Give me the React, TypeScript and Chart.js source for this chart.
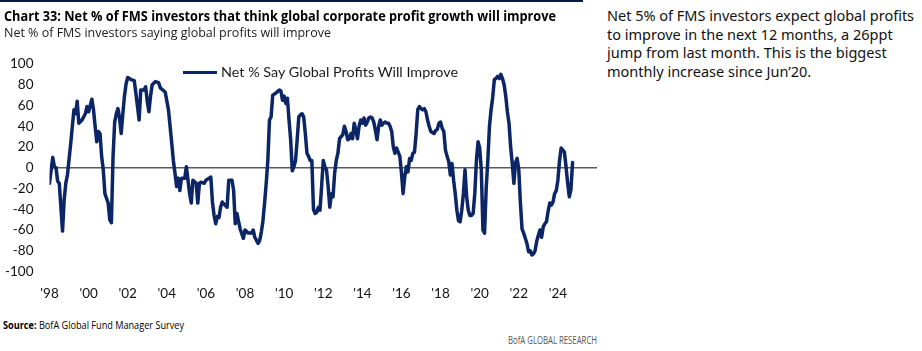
import React, { useEffect, useLayoutEffect, useRef } from "react";
import { Chart, registerables } from "chart.js";

Chart.register(...registerables);

// Months since Jan 1998 (0 = Jan 1998) and the survey reading for that month
const monthsSinceJan1998 = [
  0, 2, 3, 4, 5, 6, 8, 9, 10, 11, 13, 15, 16, 17, 18, 20, 22, 23, 24, 26, 27, 28, 29, 30, 31, 32, 33, 34, 36, 37, 38,
  39, 40, 41, 42, 43, 44, 45, 46, 47, 48, 50, 52, 53, 54, 55, 56, 58, 59, 60, 61, 62, 63, 65, 67, 68, 71, 73, 74, 75,
  76, 77, 78, 79, 80, 81, 83, 84, 85, 86, 87, 88, 90, 91, 92, 93, 95, 96, 98, 99, 100, 101, 102, 103, 104, 105, 106,
  107, 109, 110, 112, 113, 114, 115, 117, 119, 120, 122, 124, 125, 126, 128, 129, 130, 131, 132, 133, 134, 135, 136,
  137, 139, 141, 142, 143, 144, 145, 146, 147, 148, 149, 150, 151, 152, 153, 154, 155, 156, 157, 158, 159, 160, 161,
  162, 163, 164, 165, 166, 167, 168, 169, 170, 171, 172, 173, 174, 175, 176, 177, 178, 180, 181, 182, 183, 184, 185,
  186, 187, 188, 189, 190, 191, 192, 193, 194, 195, 196, 197, 198, 199, 200, 201, 202, 203, 204, 205, 206, 207, 208,
  209, 210, 211, 212, 213, 214, 215, 216, 217, 218, 219, 220, 221, 222, 223, 224, 225, 226, 227, 228, 229, 230, 231,
  232, 233, 234, 236, 237, 238, 239, 240, 241, 242, 243, 244, 245, 246, 247, 248, 249, 250, 251, 252, 253, 254, 255,
  256, 257, 258, 259, 260, 261, 262, 263, 264, 265, 266, 267, 268, 269, 270, 271, 272, 273, 274, 275, 276, 277, 278,
  279, 280, 281, 282, 283, 284, 285, 286, 287, 288, 289, 290, 291, 292, 293, 294, 295, 296, 297, 298, 299, 300, 301,
  302, 303, 304, 305, 306, 307, 308, 309, 310, 311, 312, 313, 314, 315, 316, 317, 318, 319, 320, 321,
];

const netPctImprove = [
  -15, 10, 1, 0, -13, -15, -61, -31, -15, -7, 23, 56, 52, 64, 43, 46, 52, 59, 54, 66, 56, 40, 25, 35, 33, 11, -2, -25,
  -34, -50, -53, 11, 44, 52, 57, 48, 33, 52, 69, 81, 87, 85, 84, 72, 59, 46, 75, 75, 78, 64, 54, 69, 80, 83, 82, 77, 73,
  56, 40, 24, 7, -5, -18, -10, -22, -10, -10, 1, -12, -25, -34, -12, -15, -34, -15, -14, -15, -12, -10, -9, -33, -46,
  -54, -47, -48, -38, -33, -35, -38, -12, -12, -22, -54, -44, -59, -68, -60, -63, -63, -60, -67, -73, -70, -62, -51,
  -34, -15, 7, 46, 49, 70, 72, 75, 74, 65, 69, 62, 67, 46, 27, -3, 1, 7, 27, 49, 51, 52, 49, 33, 14, 11, 7, 7, -40, -44,
  -43, -38, -41, -18, 7, 1, -2, -18, -38, -25, -28, -5, 7, 14, 28, 32, 40, 35, 27, 28, 33, 28, 43, 36, 28, 40, 46, 43,
  48, 41, 44, 48, 49, 48, 44, 36, 27, 40, 46, 41, 43, 44, 43, 43, 40, 35, 20, 14, 19, 15, 11, -5, -25, -9, 1, -4, 9, 7,
  14, 15, 33, 56, 59, 57, 56, 57, 54, 46, 40, 35, 33, 36, 37, 43, 44, 38, 35, 17, 11, 6, -7, 4, -12, -25, -41, -51, -52,
  -41, -25, -2, -28, -41, -46, -46, -44, -25, 7, 25, 19, -2, -60, -63, -20, 7, 40, 56, 68, 85, 86, 88, 86, 90, 86, 80,
  69, 54, 43, 20, 4, -15, 5, 9, -2, -34, -59, -63, -68, -73, -81, -80, -84, -83, -80, -71, -65, -60, -67, -57, -54,
  -52, -42, -34, -36, -33, -25, -22, -12, 7, 19, 17, 15, 1, -15, -28, -21, 5,
];

const tickYears = [1998, 2000, 2002, 2004, 2006, 2008, 2010, 2012, 2014, 2016, 2018, 2020, 2022, 2024];
const tickLabels = ["'98", "'00", "'02", "'04", "'06", "'08", "'10", "'12", "'14", "'16", "'18", "'20", "'22", "'24"];
const axisEndYear = 2026;
const seriesName = "Net % Say Global Profits Will Improve";

const titleText = "Chart 33: Net % of FMS investors that think global corporate profit growth will improve";
const subtitleText = "Net % of FMS investors saying global profits will improve";
const sourceLabel = "Source:";
const sourceText = " BofA Global Fund Manager Survey";
const brandText = "BofA GLOBAL RESEARCH";
const sideNote =
  "Net 5% of FMS investors expect global profits to improve in the next 12 months, a 26ppt jump from last month. This is the biggest monthly increase since Jun\u201920.";

const NAVY = "#0b2566";
const SANS = '"Open Sans", "Noto Sans", sans-serif';

function FitText(props: { width: number; left: number; top: number; style: any; children: any }) {
  const ref = useRef<HTMLSpanElement | null>(null);
  useLayoutEffect(() => {
    const fit = () => {
      const el = ref.current;
      if (!el) return;
      el.style.transform = "none";
      const w = el.getBoundingClientRect().width;
      if (w > 0) el.style.transform = `scaleX(${props.width / w})`;
    };
    fit();
    if ((document as any).fonts && (document as any).fonts.ready) (document as any).fonts.ready.then(fit);
  }, [props.width]);
  return (
    <span
      ref={ref}
      style={{
        position: "absolute",
        left: props.left,
        top: props.top,
        display: "inline-block",
        whiteSpace: "nowrap",
        transformOrigin: "0 0",
        ...props.style,
      }}
    >
      {props.children}
    </span>
  );
}

function LineChart() {
  const ref = useRef<HTMLCanvasElement | null>(null);
  useEffect(() => {
    if (!ref.current) return;
    const points = monthsSinceJan1998.map((m, i) => ({ x: m, y: netPctImprove[i] }));
    const chart = new Chart(ref.current, {
      type: "line",
      data: {
        datasets: [
          {
            label: seriesName,
            data: points,
            borderColor: NAVY,
            backgroundColor: NAVY,
            borderWidth: 3.5,
            pointRadius: 0,
            tension: 0,
            borderJoinStyle: "round",
            borderCapStyle: "round",
          },
        ],
      },
      options: {
        animation: false,
        responsive: false,
        maintainAspectRatio: false,
        layout: { padding: { top: 64, right: 3, left: 0, bottom: 0 } },
        plugins: {
          tooltip: { enabled: false },
          legend: { display: false },
        },
        scales: {
          x: {
            type: "linear",
            min: 0,
            max: (axisEndYear - tickYears[0]) * 12,
            grid: { display: false, drawTicks: false },
            border: { display: false },
            ticks: {
              autoSkip: false,
              maxRotation: 0,
              color: "#111",
              font: { family: "Lato", size: 13.5 },
              padding: 14,
              callback: (v: any) => {
                const idx = tickYears.findIndex((y) => (y - tickYears[0]) * 12 === v);
                return idx >= 0 ? tickLabels[idx] : "";
              },
            },
            afterBuildTicks: (s: any) => {
              s.ticks = tickYears.map((y) => ({ value: (y - tickYears[0]) * 12 }));
            },
            afterFit: (s: any) => {
              s.height = 38.5;
            },
          },
          y: {
            min: -100,
            max: 100,
            grid: {
              drawTicks: false,
              tickLength: 0,
              color: (ctx: any) => (ctx.tick && ctx.tick.value === 0 ? "#5a5a5a" : "rgba(0,0,0,0)"),
              lineWidth: 1.6,
            },
            border: { display: false },
            ticks: {
              stepSize: 20,
              color: "#111",
              font: { family: "Lato", size: 13.5 },
              padding: 16,
            },
            afterFit: (s: any) => {
              s.width = 49.5;
            },
          },
        },
      },
    });
    return () => chart.destroy();
  }, []);
  return (
    <canvas
      ref={ref}
      width={600}
      height={310}
      style={{ position: "absolute", left: 0, top: 0, width: 600, height: 310 }}
    />
  );
}

export default function App() {
  return (
    <div style={{ position: "absolute", left: 0, top: 0, width: 922, height: 351, background: "#fff", overflow: "hidden" }}>
      <LineChart />
      <div style={{ position: "absolute", left: 0, top: 0, width: 583, height: 2, background: "#0a1a3c" }} />
      <FitText
        width={552}
        left={4}
        top={5}
        style={{ fontFamily: SANS, fontWeight: 700, fontSize: 15, color: "#000", lineHeight: "20px" }}
      >
        {titleText}
      </FitText>
      <FitText
        width={327}
        left={4}
        top={23}
        style={{ fontFamily: SANS, fontSize: 13.5, color: "#1a1a1a", lineHeight: "18px" }}
      >
        {subtitleText}
      </FitText>
      {/* legend */}
      <div style={{ position: "absolute", left: 183, top: 70.5, width: 34, height: 3, background: NAVY }} />
      <FitText
        width={237}
        left={221}
        top={63}
        style={{ fontFamily: "Lato", fontSize: 14, color: "#1a1a1a", lineHeight: "18px" }}
      >
        {seriesName}
      </FitText>
      <FitText
        width={181}
        left={3}
        top={318}
        style={{ fontFamily: SANS, fontSize: 10.5, color: "#000", lineHeight: "14px" }}
      >
        <b>{sourceLabel}</b>
        {sourceText}
      </FitText>
      <FitText
        width={89}
        left={508}
        top={333}
        style={{ fontFamily: SANS, fontSize: 10.5, color: "#555", lineHeight: "14px" }}
      >
        {brandText}
      </FitText>
      <div
        style={{
          position: "absolute",
          left: 607,
          top: 6,
          width: 312,
          fontFamily: '"Noto Sans", sans-serif',
          fontSize: 14.5,
          lineHeight: "18.7px",
          color: "#111",
        }}
      >
        {sideNote}
      </div>
    </div>
  );
}
